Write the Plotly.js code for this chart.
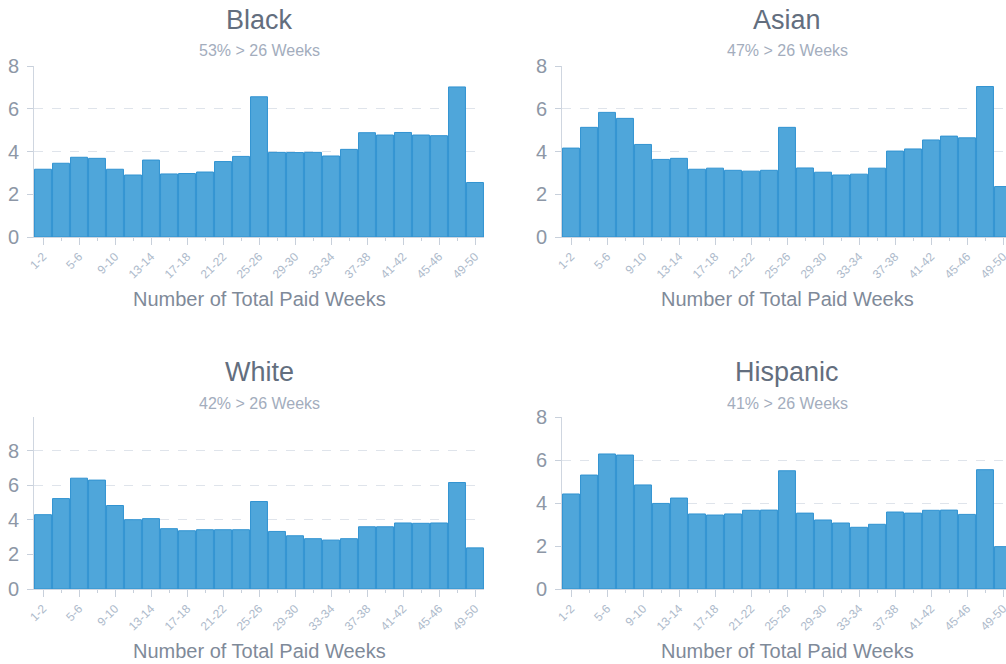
<!DOCTYPE html>
<html>
<head>
<meta charset="utf-8">
<script src="https://cdn.plot.ly/plotly-3.0.1.min.js"></script>
<style>
  html, body { margin: 0; padding: 0; overflow: hidden; background: #ffffff; }
  #chart { width: 1014px; height: 664px; }
</style>
</head>
<body>
<div id="chart"></div>
<script>
const categories = ['1-2','3-4','5-6','7-8','9-10','11-12','13-14','15-16','17-18','19-20','21-22','23-24','25-26','27-28','29-30','31-32','33-34','35-36','37-38','39-40','41-42','43-44','45-46','47-48','49-50'];
const tickLabels = ['1-2','5-6','9-10','13-14','17-18','21-22','25-26','29-30','33-34','37-38','41-42','45-46','49-50'];

const panelNames = ['Black', 'Asian', 'White', 'Hispanic'];
const panelSubtitles = ['53% > 26 Weeks', '47% > 26 Weeks', '42% > 26 Weeks', '41% > 26 Weeks'];
const xAxisTitle = 'Number of Total Paid Weeks';

const blackValues = [3.17, 3.45, 3.73, 3.68, 3.17, 2.90, 3.60, 2.95, 2.97, 3.04, 3.53, 3.77, 6.56, 3.96, 3.95, 3.96, 3.79, 4.10, 4.88, 4.77, 4.89, 4.77, 4.74, 7.02, 2.55];
const asianValues = [4.16, 5.13, 5.83, 5.55, 4.33, 3.63, 3.68, 3.17, 3.22, 3.12, 3.08, 3.12, 5.13, 3.23, 3.03, 2.90, 2.94, 3.22, 4.02, 4.12, 4.54, 4.72, 4.64, 7.04, 2.36];
const whiteValues = [4.30, 5.23, 6.41, 6.30, 4.83, 4.01, 4.07, 3.49, 3.37, 3.43, 3.43, 3.43, 5.06, 3.33, 3.08, 2.91, 2.83, 2.91, 3.60, 3.60, 3.82, 3.80, 3.82, 6.16, 2.38];
const hispanicValues = [4.42, 5.30, 6.28, 6.23, 4.84, 3.98, 4.23, 3.49, 3.44, 3.49, 3.66, 3.67, 5.50, 3.53, 3.21, 3.07, 2.87, 3.01, 3.58, 3.53, 3.66, 3.67, 3.47, 5.55, 1.97];

const yRanges = [[0, 8], [0, 8], [0, 9.95], [0, 8]];

const W = 1014, H = 664;
const px = v => v / W;
const py = v => (H - v) / H;

const FONT = '"Liberation Sans", Arial, Helvetica, sans-serif';
const series = [blackValues, asianValues, whiteValues, hispanicValues];

// pixel geometry of panels
const xDom = [[px(34), px(484)], [px(562), px(1012)]];
const yDom = [[py(237), py(66)], [py(589), py(417)]];
const titleY = [20, 372];
const subY = [51, 403];
const axTitleY = [299, 651];

const data = series.map((vals, i) => ({
  type: 'bar',
  x: categories,
  y: vals,
  xaxis: i === 0 ? 'x' : 'x' + (i + 1),
  yaxis: i === 0 ? 'y' : 'y' + (i + 1),
  marker: { color: '#4fa6da', line: { color: '#3193d1', width: 1 } },
  hoverinfo: 'x+y',
  showlegend: false
}));

const layout = {
  width: W,
  height: H,
  margin: { l: 0, r: 0, t: 0, b: 0 },
  paper_bgcolor: '#ffffff',
  plot_bgcolor: '#ffffff',
  bargap: 0.06,
  font: { family: FONT, color: '#8f99a7' },
  annotations: []
};

for (let i = 0; i < 4; i++) {
  const col = i % 2, row = Math.floor(i / 2);
  const sx = i === 0 ? '' : String(i + 1);
  layout['xaxis' + sx] = {
    domain: xDom[col],
    anchor: 'y' + sx,
    type: 'category',
    tickmode: 'array',
    tickvals: tickLabels,
    ticktext: tickLabels,
    tickangle: -45,
    ticks: 'outside',
    ticklen: 7,
    tickwidth: 1,
    tickcolor: '#c8d0db',
    tickfont: { size: 12, color: '#adbacb', family: FONT },
    minor: { tickmode: 'array', tickvals: categories, ticks: 'outside', ticklen: 3, tickcolor: '#c8d0db', tickwidth: 1, showgrid: false },
    showline: true,
    linecolor: '#cfd6e0',
    linewidth: 1,
    showgrid: false,
    zeroline: false,
    fixedrange: true
  };
  layout['yaxis' + sx] = {
    domain: yDom[row],
    anchor: 'x' + sx,
    range: yRanges[i],
    tickmode: 'linear',
    tick0: 0,
    dtick: 2,
    ticks: 'outside',
    ticklen: 6,
    tickwidth: 1,
    tickcolor: '#c8d0db',
    ticklabelstandoff: 4,
    tickfont: { size: 20, color: '#8d97a6', family: FONT },
    showline: true,
    linecolor: '#cfd6e0',
    linewidth: 1,
    showgrid: true,
    gridcolor: '#dfe4eb',
    griddash: 'dash',
    gridwidth: 1,
    zeroline: false,
    fixedrange: true
  };
  const cx = (xDom[col][0] + xDom[col][1]) / 2;
  layout.annotations.push({
    text: panelNames[i], xref: 'paper', yref: 'paper', x: cx, y: py(titleY[row]),
    xanchor: 'center', yanchor: 'middle', showarrow: false,
    font: { size: 27, color: '#636e7e', family: FONT }
  });
  layout.annotations.push({
    text: panelSubtitles[i], xref: 'paper', yref: 'paper', x: cx, y: py(subY[row]),
    xanchor: 'center', yanchor: 'middle', showarrow: false,
    font: { size: 16, color: '#a3adbd', family: FONT }
  });
  layout.annotations.push({
    text: xAxisTitle, xref: 'paper', yref: 'paper', x: cx, y: py(axTitleY[row]),
    xanchor: 'center', yanchor: 'middle', showarrow: false,
    font: { size: 20, color: '#7f8a99', family: FONT }
  });
}

Plotly.newPlot('chart', data, layout, { displayModeBar: false, staticPlot: true });
</script>
</body>
</html>
